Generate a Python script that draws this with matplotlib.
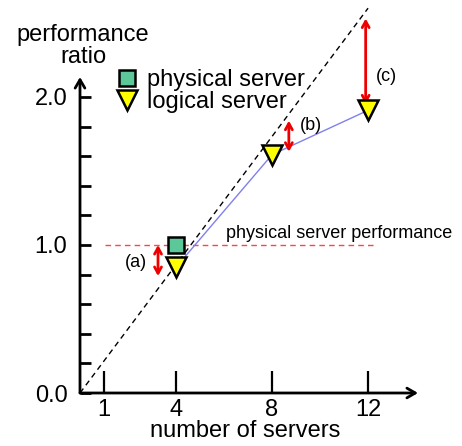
import matplotlib
matplotlib.use("Agg")
import matplotlib.pyplot as plt
import numpy as np

plt.rcParams["font.family"] = ["Liberation Sans", "DejaVu Sans"]

# data
n_logical = [4, 8, 12]
ratio_logical = [0.85, 1.61, 1.91]
n_physical = [4]
ratio_physical = [1.0]
ideal_x = [0, 12]
ideal_y = [0, 2.6]
phys_line_x = [1.05, 12.3]
phys_line_y = [1.0, 1.0]
# gap arrows: (x, top, bottom, label, label_x, label_y)
gaps = [(3.25, 1.0, 0.79, "(a)", 2.35, 0.885),
        (8.7, 1.84, 1.63, "(b)", 9.6, 1.81),
        (11.9, 2.53, 1.95, "(c)", 12.75, 2.14)]
x_ticks = [1, 4, 8, 12]
y_major = [0.0, 1.0, 2.0]
y_minor = np.arange(0.2, 2.01, 0.2)

W, H = 462, 446
fig = plt.figure(figsize=(W / 100, H / 100), dpi=100)
ax = fig.add_axes([80 / W, (H - 393) / H, (418 - 80) / W, (393 - 77) / H])
ax.set_xlim(0, 14.08)
ax.set_ylim(0, 2.135)
for s in ax.spines.values():
    s.set_visible(False)

# axes drawn as arrows
for end in [(1, 0), (0, 1)]:
    ax.annotate("", xy=end, xytext=(0, 0), xycoords="axes fraction",
                arrowprops=dict(arrowstyle="->,head_length=0.6,head_width=0.35", lw=2,
                                color="black", shrinkA=0, shrinkB=0))

ax.set_xticks(x_ticks)
ax.set_xticklabels([str(t) for t in x_ticks], fontsize=17)
ax.set_yticks(y_major)
ax.set_yticklabels([f"{t:.1f}" for t in y_major], fontsize=17)
ax.set_yticks(y_minor, minor=True)
ax.tick_params(axis="x", direction="in", length=16, width=1.6, pad=4)
ax.tick_params(axis="y", which="both", direction="in", length=8, width=2, pad=9)

# reference lines
ax.plot(ideal_x, ideal_y, ls=(0, (4, 3)), color="black", lw=1, clip_on=False, zorder=2)
ax.plot(phys_line_x, phys_line_y, ls=(0, (4, 3)), color="#ff4444", lw=1, zorder=2)
ax.text(6.1, 1.08, "physical server performance", fontsize=13, ha="left", va="center",
        clip_on=False)

ax.plot(n_logical, ratio_logical, color="#8080ee", lw=1, zorder=3)
ax.plot(n_physical, ratio_physical, "s", ms=12, mfc="#5cc89a", mec="black", mew=1.8,
        zorder=4, label="physical server", clip_on=False)
ax.plot(n_logical, ratio_logical, "v", ms=14, mfc="#ffff00", mec="black", mew=1.8,
        zorder=4, label="logical server", ls="none", clip_on=False)

for x, top, bot, lab, lx, ly in gaps:
    ax.annotate("", xy=(x, top), xytext=(x, bot),
                arrowprops=dict(arrowstyle="<->,head_length=0.45,head_width=0.25",
                                lw=2, color="#ee0000", shrinkA=0, shrinkB=0),
                annotation_clip=False)
    ax.text(lx, ly, lab, fontsize=13, ha="center", va="center")

ax.legend(loc="upper left", bbox_to_anchor=(0.111, 1.025), frameon=False, fontsize=17,
          handlelength=0.8, handletextpad=0.45, labelspacing=0.0, borderpad=0,
          borderaxespad=0, numpoints=1)

fig.text(83 / W, 1 - 46 / H, "performance\nratio", fontsize=17, ha="center", va="center",
         linespacing=1.05)
fig.text(245 / W, 1 - 431 / H, "number of servers", fontsize=17, ha="center", va="center")

fig.savefig("out.png", dpi=100)
